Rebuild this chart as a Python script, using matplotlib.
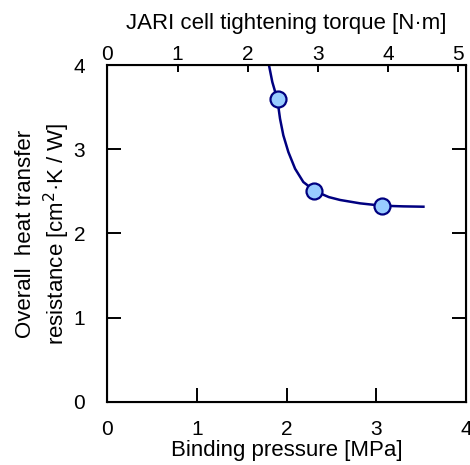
"""Overall heat transfer resistance vs binding pressure."""

import matplotlib.pyplot as plt

plt.rcParams["font.family"] = ["Liberation Sans", "DejaVu Sans"]

# fitted curve
curve_pressure_mpa = [1.802, 1.839, 1.895, 1.925, 1.962, 2.018, 2.093, 2.185,
                      2.305, 2.372, 2.470, 2.595, 2.818, 3.060, 3.301, 3.525]
curve_resistance = [3.996, 3.798, 3.593, 3.363, 3.165, 2.967, 2.769, 2.611,
                    2.512, 2.477, 2.432, 2.398, 2.358, 2.330, 2.322, 2.318]

# measured points
point_pressure_mpa = [1.90, 2.30, 3.06]
point_resistance = [3.60, 2.51, 2.33]

TORQUE_PER_MPA = 1.278
x_ticks = [0, 1, 2, 3, 4]
y_ticks = [0, 1, 2, 3, 4]
top_ticks = [0, 1, 2, 3, 4, 5]

NAVY = "#000080"
LABEL_SIZE = 16
TICK_SIZE = 15

fig = plt.figure(figsize=(4.7, 4.65), dpi=100)
ax = fig.add_axes([0.2287, 0.1355, 0.7628, 0.7247])

ax.plot(curve_pressure_mpa, curve_resistance, color=NAVY, lw=1.8, zorder=2)
ax.plot(point_pressure_mpa, point_resistance, "o", ms=11.5,
        mfc="#99ccff", mec=NAVY, mew=1.6, zorder=3)

ax.set_xlim(0, 4)
ax.set_ylim(0, 4)
ax.set_xticks(x_ticks)
ax.set_yticks(y_ticks)
ax.tick_params(axis="both", direction="in", length=10, width=1.4,
               labelsize=TICK_SIZE)
ax.tick_params(axis="x", pad=13)
ax.tick_params(axis="y", pad=16, right=True)
for spine in ax.spines.values():
    spine.set_linewidth(1.5)

ax.set_xlabel("Binding pressure [MPa]", fontsize=LABEL_SIZE, labelpad=1)
ax.set_ylabel("Overall  heat transfer\nresistance [cm$^2$·K / W]",
              fontsize=LABEL_SIZE, labelpad=1, linespacing=1.25)

top = ax.twiny()
top.set_xlim(0, 4 * TORQUE_PER_MPA)
top.set_xticks(top_ticks)
top.tick_params(axis="x", direction="in", length=5, width=1.4,
                labelsize=TICK_SIZE, pad=1)
top.set_xlabel("JARI cell tightening torque [N·m]", fontsize=LABEL_SIZE,
               labelpad=11)

fig.savefig("out.png", dpi=100)
